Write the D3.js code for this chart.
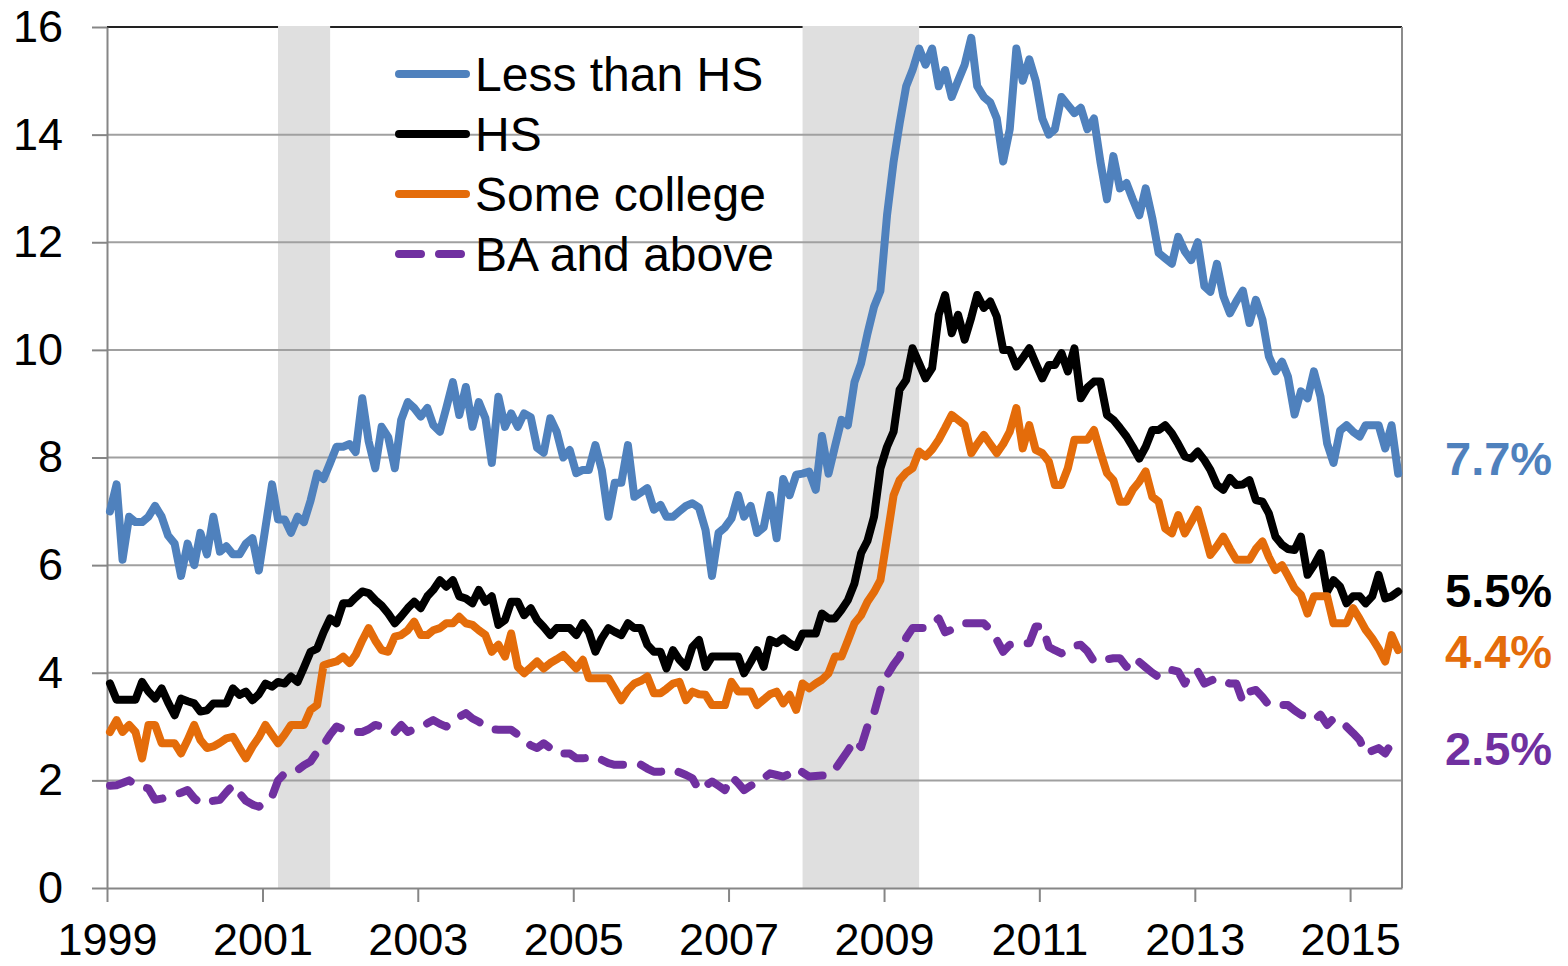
<!DOCTYPE html>
<html>
<head>
<meta charset="utf-8">
<script src="https://cdn.jsdelivr.net/npm/d3@7"></script>
<style>
  body { margin: 0; background: #fff; }
  text { font-family: "Liberation Sans", Arial, sans-serif; }
</style>
</head>
<body>
<svg id="chart" width="1568" height="966"></svg>
<script>
// monthly series, Jan 1999 .. Aug 2015
const lessThanHS = [
  7.0, 7.5, 6.1, 6.9, 6.8, 6.8, 6.9, 7.1, 6.9, 6.55, 6.4, 5.8,
  6.4, 6.0, 6.6, 6.2, 6.9, 6.25, 6.35, 6.2, 6.2, 6.4, 6.5, 5.9,
  6.7, 7.5, 6.85, 6.85, 6.6, 6.9, 6.8, 7.2, 7.7, 7.6, 7.9, 8.2,
  8.2, 8.25, 8.1, 9.1, 8.3, 7.8, 8.57, 8.38, 7.8, 8.7, 9.03, 8.92,
  8.76, 8.92, 8.6, 8.48, 8.92, 9.4, 8.79, 9.31, 8.57, 9.03, 8.73, 7.9,
  9.13, 8.57, 8.82, 8.57, 8.82, 8.75, 8.18, 8.09, 8.73, 8.48, 8.0, 8.14,
  7.71, 7.77, 7.77, 8.23, 7.77, 6.9, 7.53, 7.53, 8.23, 7.27, 7.35, 7.43,
  7.03, 7.12, 6.9, 6.9, 7.0, 7.1, 7.15, 7.07, 6.65, 5.8, 6.6, 6.7,
  6.87, 7.3, 6.9, 7.1, 6.6, 6.7, 7.3, 6.5, 7.6, 7.3, 7.68, 7.7,
  7.74, 7.4, 8.4, 7.7, 8.2, 8.7, 8.6, 9.4, 9.75, 10.3, 10.8, 11.1,
  12.5, 13.5, 14.2, 14.9, 15.2, 15.6, 15.3, 15.6, 14.9, 15.2, 14.7, 15.0,
  15.3, 15.8, 14.9, 14.7, 14.6, 14.3, 13.5, 14.1, 15.6, 15.0, 15.4, 15.0,
  14.3, 14.0, 14.1, 14.7, 14.55, 14.4, 14.5, 14.1, 14.3, 13.5, 12.8, 13.6,
  13.0, 13.1, 12.8, 12.5, 13.0, 12.45, 11.8, 11.7, 11.6, 12.1, 11.83, 11.67,
  12.0, 11.18, 11.08, 11.6, 11.0, 10.68, 10.9, 11.1, 10.5, 10.93, 10.56, 9.88,
  9.6, 9.78, 9.5, 8.8, 9.23, 9.1, 9.6, 9.13, 8.26, 7.9, 8.5, 8.6,
  8.48, 8.39, 8.6, 8.6, 8.6, 8.17, 8.6, 7.7
];
const highSchool = [
  3.8, 3.5, 3.5, 3.5, 3.5, 3.83, 3.65, 3.52, 3.71, 3.45, 3.21, 3.52,
  3.47, 3.43, 3.28, 3.3, 3.43, 3.43, 3.43, 3.71, 3.59, 3.65, 3.49, 3.6,
  3.8, 3.74, 3.83, 3.8, 3.93, 3.83, 4.1, 4.39, 4.45, 4.75, 5.01, 4.92,
  5.29, 5.29, 5.4, 5.51, 5.48, 5.35, 5.25, 5.1, 4.92, 5.05, 5.2, 5.32,
  5.2, 5.42, 5.54, 5.72, 5.6, 5.72, 5.42, 5.38, 5.29, 5.54, 5.32, 5.42,
  4.89, 4.98, 5.32, 5.32, 5.07, 5.2, 4.98, 4.85, 4.7, 4.83, 4.83, 4.83,
  4.7, 4.92, 4.76, 4.39, 4.64, 4.83, 4.76, 4.7, 4.92, 4.83, 4.83, 4.52,
  4.39, 4.39, 4.08, 4.42, 4.24, 4.11, 4.48, 4.61, 4.11, 4.3, 4.3, 4.3,
  4.3, 4.3, 3.99, 4.2, 4.42, 4.11, 4.61, 4.55, 4.64, 4.55, 4.48, 4.73,
  4.73, 4.73, 5.1, 5.01, 5.01, 5.17, 5.35, 5.66, 6.22, 6.45, 6.9, 7.8,
  8.2, 8.48, 9.26, 9.44, 10.03, 9.75, 9.47, 9.66, 10.65, 11.02, 10.31, 10.65,
  10.19, 10.6, 11.02, 10.78, 10.9, 10.62, 10.0, 10.0, 9.69, 9.85, 10.03, 9.75,
  9.47, 9.72, 9.72, 9.94, 9.6, 10.03, 9.1, 9.3, 9.41, 9.41, 8.79, 8.7,
  8.55, 8.39, 8.2, 7.98, 8.2, 8.51, 8.51, 8.6, 8.45, 8.25, 8.02, 7.98,
  8.11, 7.95, 7.77, 7.49, 7.4, 7.62, 7.49, 7.5, 7.58, 7.21, 7.18, 6.96,
  6.53, 6.38, 6.3, 6.28, 6.53, 5.82, 6.0, 6.22, 5.51, 5.72, 5.6, 5.29,
  5.42, 5.42, 5.29, 5.42, 5.82, 5.38, 5.42, 5.51
];
const someCollege = [
  2.9, 3.12, 2.9, 3.03, 2.9, 2.41, 3.03, 3.03, 2.69, 2.69, 2.69, 2.5,
  2.75, 3.03, 2.75, 2.6, 2.63, 2.7, 2.78, 2.81, 2.6, 2.41, 2.63, 2.8,
  3.03, 2.85, 2.69, 2.85, 3.03, 3.03, 3.03, 3.31, 3.4, 4.14, 4.18, 4.21,
  4.3, 4.18, 4.33, 4.6, 4.83, 4.6, 4.42, 4.39, 4.67, 4.7, 4.79, 4.95,
  4.7, 4.7, 4.79, 4.83, 4.92, 4.92, 5.04, 4.92, 4.89, 4.79, 4.7, 4.39,
  4.52, 4.3, 4.73, 4.11, 3.99, 4.1, 4.21, 4.08, 4.18, 4.25, 4.33, 4.21,
  4.08, 4.24, 3.9, 3.9, 3.9, 3.9, 3.7, 3.49, 3.68, 3.8, 3.85, 3.93,
  3.62, 3.62, 3.7, 3.8, 3.83, 3.49, 3.65, 3.6, 3.59, 3.4, 3.4, 3.4,
  3.83, 3.65, 3.65, 3.65, 3.4, 3.5, 3.6, 3.65, 3.43, 3.59, 3.31, 3.8,
  3.71, 3.8, 3.87, 3.99, 4.3, 4.3, 4.6, 4.92, 5.07, 5.32, 5.5, 5.72,
  6.5, 7.3, 7.58, 7.72, 7.8, 8.11, 8.02, 8.15, 8.33, 8.55, 8.79, 8.7,
  8.6, 8.08, 8.25, 8.42, 8.25, 8.08, 8.25, 8.48, 8.92, 8.17, 8.6, 8.14,
  8.08, 7.92, 7.49, 7.49, 7.8, 8.33, 8.33, 8.33, 8.51, 8.1, 7.71, 7.58,
  7.18, 7.18, 7.4, 7.55, 7.74, 7.27, 7.18, 6.68, 6.59, 6.93, 6.59, 6.8,
  7.03, 6.6, 6.19, 6.35, 6.53, 6.3, 6.1, 6.1, 6.1, 6.3, 6.44, 6.15,
  5.91, 6.0, 5.8, 5.57, 5.45, 5.1, 5.42, 5.42, 5.42, 4.92, 4.92, 4.92,
  5.2, 5.0, 4.8, 4.64, 4.45, 4.21, 4.7, 4.42
];
const baAndAbove = [
  1.9, 1.91, 1.95, 2.0, 1.91, 1.88, 1.85, 1.64, 1.66, 1.7, 1.73, 1.77,
  1.82, 1.67, 1.57, 1.6, 1.62, 1.64, 1.78, 1.91, 1.76, 1.62, 1.55, 1.51,
  1.6, 1.7, 2.0, 2.13, 2.15, 2.19, 2.28, 2.35, 2.53, 2.66, 2.85, 3.0,
  2.95, 2.9, 2.9, 2.9, 2.95, 3.03, 3.0, 2.95, 2.9, 3.03, 2.9, 2.95,
  3.0, 3.06, 3.12, 3.05, 3.0, 3.1, 3.18, 3.25, 3.15, 3.09, 3.0, 2.95,
  2.94, 2.94, 2.94, 2.85, 2.75, 2.65, 2.6, 2.69, 2.6, 2.5, 2.5, 2.5,
  2.41, 2.41, 2.42, 2.44, 2.38, 2.32, 2.29, 2.29, 2.29, 2.29, 2.29, 2.22,
  2.16, 2.16, 2.18, 2.2, 2.15, 2.1, 2.04, 1.82, 1.9, 1.98, 1.9, 1.82,
  2.07, 1.95, 1.82, 1.9, 1.97, 2.04, 2.13, 2.1, 2.07, 2.12, 2.22, 2.15,
  2.07, 2.08, 2.09, 2.1, 2.2, 2.38, 2.55, 2.75, 2.62, 3.0, 3.25, 3.68,
  3.95, 4.15, 4.3, 4.65, 4.83, 4.83, 4.83, 4.9, 5.01, 4.75, 4.8, 4.88,
  4.92, 4.92, 4.92, 4.92, 4.8, 4.61, 4.39, 4.52, 4.55, 4.55, 4.55, 4.86,
  4.86, 4.48, 4.42, 4.36, 4.42, 4.5, 4.52, 4.4, 4.21, 4.23, 4.25, 4.27,
  4.27, 4.11, 4.27, 4.2, 4.1, 4.0, 3.92, 4.0, 4.05, 4.02, 3.8, 4.02,
  4.02, 3.8, 3.85, 3.9, 3.85, 3.8, 3.8, 3.46, 3.65, 3.68, 3.55, 3.4,
  3.4, 3.4, 3.4, 3.3, 3.22, 3.17, 3.12, 3.22, 3.03, 3.15, 3.1, 3.0,
  2.88, 2.75, 2.5, 2.55, 2.6, 2.5, 2.69, 2.65
];

const seriesNames = ["Less than HS", "HS", "Some college", "BA and above"];
const seriesColors = ["#4f81bd", "#000000", "#e46c0a", "#7030a0"];
const latestLabels = ["7.7%", "5.5%", "4.4%", "2.5%"];
const yearTicks = [1999, 2001, 2003, 2005, 2007, 2009, 2011, 2013, 2015];
const yTicks = [0, 2, 4, 6, 8, 10, 12, 14, 16];
// recessions, first and last month
const recessions = [["2001-03", "2001-11"], ["2007-12", "2009-06"]];

const svg = d3.select("#chart");
const plotLeft = 107, plotRight = 1402, plotTop = 27, plotBottom = 888;

const months = d3.timeMonth.range(new Date(1999, 0, 1), new Date(2015, 8, 1));
const mid = m => d3.timeDay.offset(m, 14);

const x = d3.scaleTime()
  .domain([new Date(1999, 0, 1), new Date(2015, 8, 2)])
  .range([plotLeft, plotRight]);
const y = d3.scaleLinear().domain([0, 16]).range([plotBottom, plotTop]);

// top border (covered by shading)
svg.append("line")
  .attr("x1", plotLeft).attr("x2", plotRight).attr("y1", plotTop).attr("y2", plotTop)
  .attr("stroke", "#222").attr("stroke-width", 2);

const parseM = d3.timeParse("%Y-%m");
svg.selectAll(".rec")
  .data(recessions)
  .enter().append("rect")
  .attr("x", d => x(mid(parseM(d[0]))))
  .attr("width", d => x(mid(parseM(d[1]))) - x(mid(parseM(d[0]))))
  .attr("y", plotTop - 1)
  .attr("height", plotBottom - plotTop + 1)
  .attr("fill", "#dfdfdf");

// gridlines
svg.selectAll(".grid")
  .data(yTicks.filter(d => d > 0 && d < 16))
  .enter().append("line")
  .attr("x1", plotLeft).attr("x2", plotRight)
  .attr("y1", d => y(d)).attr("y2", d => y(d))
  .attr("stroke", "#a0a0a0").attr("stroke-width", 2);

// right border
svg.append("line")
  .attr("x1", plotRight).attr("x2", plotRight).attr("y1", plotTop).attr("y2", plotBottom)
  .attr("stroke", "#8c8c8c").attr("stroke-width", 2);

// axes
const yAxis = svg.append("g")
  .attr("transform", `translate(${plotLeft},0)`)
  .call(d3.axisLeft(y).tickValues(yTicks).tickSize(15).tickSizeOuter(0).tickPadding(29));
const xAxis = svg.append("g")
  .attr("transform", `translate(0,${plotBottom})`)
  .call(d3.axisBottom(x)
    .tickValues(yearTicks.map(yr => new Date(yr, 0, 1)))
    .tickFormat(d3.timeFormat("%Y"))
    .tickSize(14).tickSizeOuter(0).tickPadding(21));

[yAxis, xAxis].forEach(g => {
  g.select(".domain").attr("stroke", "#868686").attr("stroke-width", 2);
  g.selectAll(".tick line").attr("stroke", "#868686").attr("stroke-width", 2);
  g.selectAll("text")
    .attr("fill", "#000")
    .style("font-size", "45px")
    .style("font-family", "'Liberation Sans', Arial, sans-serif");
});

// lines
const allSeries = [lessThanHS, highSchool, someCollege, baAndAbove];
const line = d3.line()
  .x((d, i) => x(mid(months[i])))
  .y(d => y(d));

allSeries.forEach((vals, k) => {
  svg.append("path")
    .datum(vals)
    .attr("fill", "none")
    .attr("stroke", seriesColors[k])
    .attr("stroke-width", 8)
    .attr("stroke-linejoin", "round")
    .attr("stroke-linecap", "round")
    .attr("stroke-dasharray", k === 3 ? "22,18" : null)
    .attr("d", line);
});

// legend
const legend = svg.append("g").attr("transform", "translate(395,74)");
seriesNames.forEach((name, k) => {
  const row = legend.append("g").attr("transform", `translate(0,${k * 60})`);
  row.append("line")
    .attr("x1", 4).attr("x2", 71)
    .attr("stroke", seriesColors[k])
    .attr("stroke-width", 8)
    .attr("stroke-linecap", "round")
    .attr("stroke-dasharray", k === 3 ? "22,18" : null);
  row.append("text")
    .attr("x", 80).attr("y", 17)
    .style("font-size", "48px")
    .attr("fill", "#000")
    .text(name);
});

// end-of-series labels
const labelBaselines = [475, 607, 668, 765];
latestLabels.forEach((lab, k) => {
  svg.append("text")
    .attr("x", 1445).attr("y", labelBaselines[k])
    .attr("fill", seriesColors[k])
    .style("font-size", "47px")
    .style("font-weight", "bold")
    .text(lab);
});
</script>
</body>
</html>
